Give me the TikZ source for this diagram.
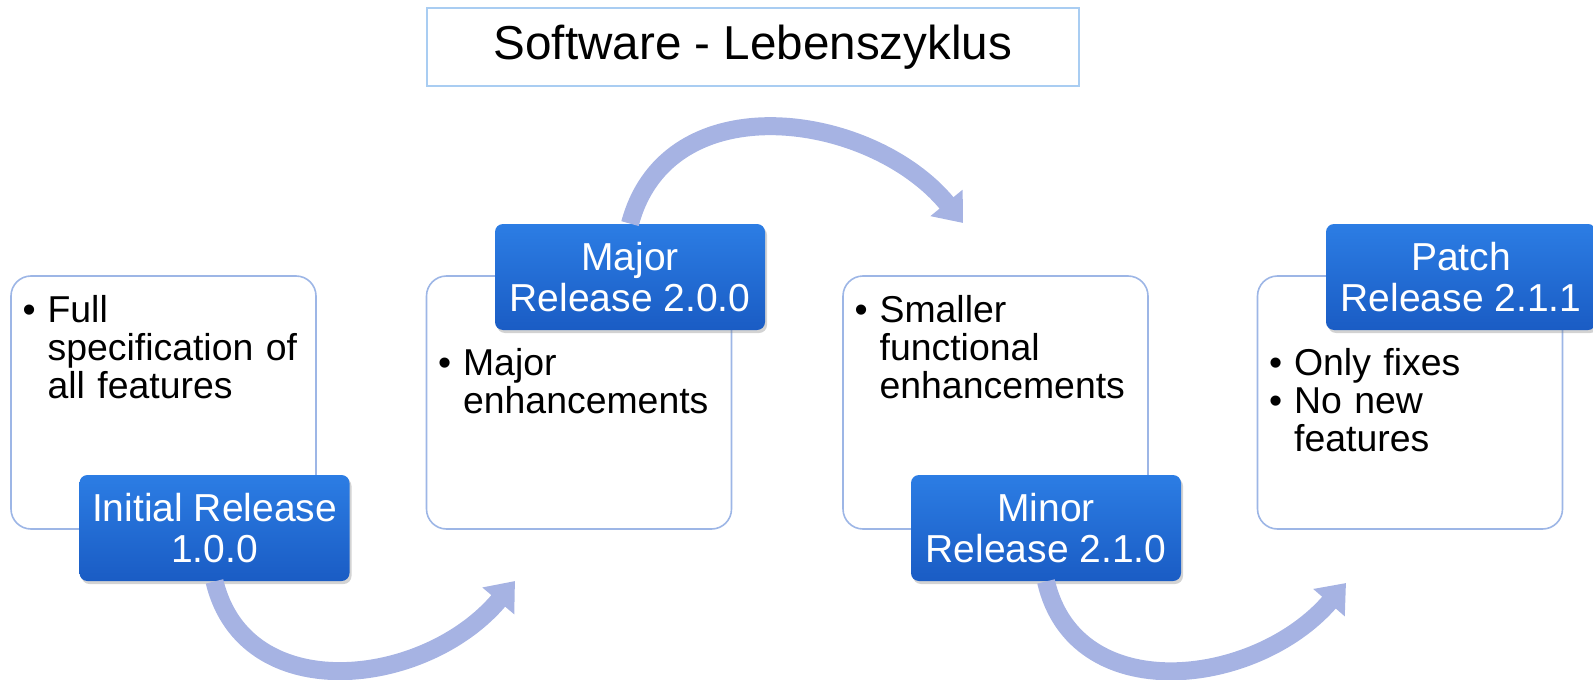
\documentclass[tikz,border=0pt]{standalone}
\usepackage{fontspec}
\setmainfont{Liberation Sans}
\usepackage{tikz}
\usetikzlibrary{calc,arrows.meta,shadows}
\definecolor{cardline}{HTML}{9DB6E6}
\definecolor{titleline}{HTML}{A9CDF2}
\definecolor{tagtop}{HTML}{2C7DE4}
\definecolor{tagbot}{HTML}{1A5CC4}
\definecolor{flowcol}{HTML}{A6B3E3}
\newcommand{\itm}[1]{\makebox[12.5pt][l]{\textbullet}\parbox[t]{128pt}{\raggedright #1}}
\tikzset{
  card/.style={draw=cardline,line width=0.8pt,fill=white,rounded corners=10pt,minimum width=152.5pt,minimum height=126.5pt},
  tag/.style={rounded corners=4pt,top color=tagtop,bottom color=tagbot,text=white,align=center,
    font=\fontsize{19.5}{20.5}\selectfont,minimum width=135pt,minimum height=53pt,inner sep=0pt,
    drop shadow={opacity=0.35,shadow xshift=1pt,shadow yshift=-1.5pt}},
  bullets/.style={anchor=base west,inner sep=0pt,text width=145pt,align=left,font=\fontsize{18.7}{19}\selectfont},
  flow/.style={draw=flowcol,line width=9pt,-{Triangle[length=13pt,width=20pt]}}
}
\begin{document}
\begin{tikzpicture}[x=0.5pt,y=-0.5pt]
\useasboundingbox (0,0) rectangle (1593,679);
\node[draw=titleline,line width=0.8pt,minimum width=326pt,minimum height=39pt,font=\fontsize{23.8}{28}\selectfont](T)at(753,47){Software - Lebenszyklus};
\foreach \i/\x in {1/163.5,2/579,3/995.5,4/1410} {\node[card](W\i)at(\x,402.5){};}
\node[bullets](B1)at($(W1.north west)+(12,47)$){\itm{Full\\specification of\\all features}};
\node[bullets](B2)at($(W2.north west)+(12,100)$){\itm{Major\\enhancements}};
\node[bullets](B3)at($(W3.north west)+(12,47)$){\itm{Smaller\\functional\\enhancements}};
\node[bullets](B4)at($(W4.north west)+(12,100)$){\itm{Only fixes}\\\itm{No new\\features}};
\node[tag](R1)at(214.5,528){Initial Release\\1.0.0};
\node[tag](R2)at(630,277){Major\\Release 2.0.0};
\node[tag](R3)at(1046,528){Minor\\Release 2.1.0};
\node[tag](R4)at(1461,277){Patch\\Release 2.1.1};
\coordinate(E1)at(515,581);
\coordinate(E2)at(963,223);
\coordinate(E3)at(1346,583);
\draw[flow](R1.south)..controls(245,708)and(425,688)..(E1);
\draw[flow](R2.north)..controls(668,82)and(872,112)..(E2);
\draw[flow](R3.south)..controls(1075,708)and(1255,688)..(E3);
\end{tikzpicture}
\end{document}
